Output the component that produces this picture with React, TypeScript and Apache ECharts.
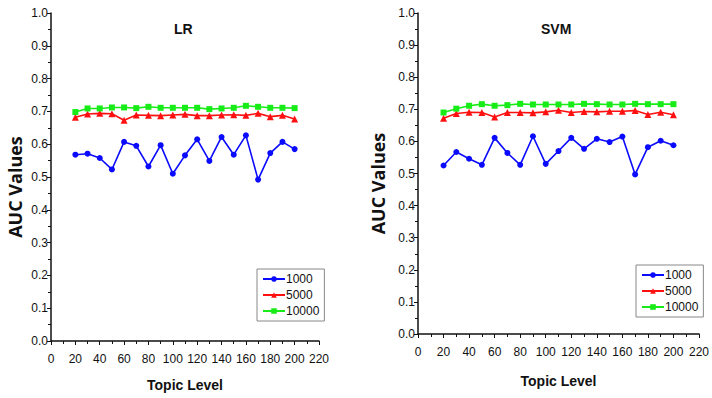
import React, { useEffect, useRef } from "react";
import * as echarts from "echarts";

const topicLevels = [20, 30, 40, 50, 60, 70, 80, 90, 100, 110, 120, 130, 140, 150, 160, 170, 180, 190, 200];
const seriesNames = ["1000", "5000", "10000"];
const chartTitles = ["LR", "SVM"];

const lr1000 = [0.568, 0.571, 0.558, 0.523, 0.607, 0.595, 0.532, 0.597, 0.51, 0.566, 0.615, 0.549, 0.622, 0.568, 0.627, 0.492, 0.573, 0.607, 0.585];
const lr5000 = [0.682, 0.692, 0.694, 0.693, 0.673, 0.689, 0.688, 0.687, 0.689, 0.691, 0.687, 0.687, 0.689, 0.69, 0.688, 0.694, 0.684, 0.688, 0.677];
const lr10000 = [0.698, 0.709, 0.709, 0.712, 0.712, 0.71, 0.714, 0.711, 0.711, 0.711, 0.711, 0.707, 0.709, 0.711, 0.717, 0.714, 0.711, 0.711, 0.71];

const svm1000 = [0.525, 0.567, 0.546, 0.527, 0.611, 0.564, 0.527, 0.616, 0.53, 0.57, 0.611, 0.577, 0.608, 0.598, 0.615, 0.497, 0.582, 0.602, 0.588];
const svm5000 = [0.672, 0.687, 0.691, 0.69, 0.676, 0.69, 0.69, 0.689, 0.692, 0.697, 0.69, 0.693, 0.692, 0.694, 0.694, 0.696, 0.684, 0.691, 0.683];
const svm10000 = [0.69, 0.702, 0.711, 0.716, 0.711, 0.713, 0.717, 0.715, 0.715, 0.715, 0.715, 0.717, 0.716, 0.715, 0.715, 0.717, 0.716, 0.716, 0.716];

const colors = ["#0a0aff", "#ff1010", "#18ec18"];
const symbols = ["circle", "triangle", "rect"];
const symbolSizes = [6, 7, 6];

const SANS = '"Liberation Sans", Arial, sans-serif';

function pairs(vals: number[]) {
  return topicLevels.map((x, i) => [x, vals[i]]);
}

export default function App() {
  const ref = useRef<HTMLDivElement>(null);
  useEffect(() => {
    if (!ref.current) return;
    const chart = echarts.init(ref.current, null, { renderer: "svg" });
    const grids = [
      { left: 51, top: 13, width: 268, height: 328 },
      { left: 418, top: 13, width: 284, height: 321 },
    ];
    const xNameGaps = [37, 40];
    const yNameGaps = [27, 31];
    const axisCommon = {
      axisLine: { show: true, lineStyle: { color: "#111", width: 1.5 } },
      axisTick: { show: true, length: 4, lineStyle: { color: "#111", width: 1 } },
      minorTick: { show: true, splitNumber: 2, length: 3, lineStyle: { color: "#111", width: 1 } },
      splitLine: { show: false },
    };
    const xAxes = grids.map((_, i) => ({
      type: "value",
      gridIndex: i,
      min: 0,
      max: 220,
      interval: 20,
      name: "Topic Level",
      nameLocation: "middle",
      nameGap: xNameGaps[i],
      nameTextStyle: { fontFamily: SANS, fontWeight: "bold", fontSize: 14, color: "#111" },
      axisLabel: { margin: 12, fontFamily: SANS, fontSize: 12, color: "#111" },
      ...axisCommon,
    }));
    const yAxes = grids.map((_, i) => ({
      type: "value",
      gridIndex: i,
      min: 0,
      max: 1,
      interval: 0.1,
      name: "AUC Values",
      nameLocation: "middle",
      nameGap: yNameGaps[i],
      nameTextStyle: {
        fontFamily: '"Open Sans", sans-serif',
        fontWeight: "bold",
        fontSize: 18,
        color: "#111",
        padding: [0, 20, 0, 0],
      },
      axisLabel: { margin: 3, fontFamily: SANS, fontSize: 12, color: "#111", formatter: (v: number) => v.toFixed(1) },
      ...axisCommon,
    }));
    const dataSets = [
      [lr1000, lr5000, lr10000],
      [svm1000, svm5000, svm10000],
    ];
    const series: any[] = [];
    dataSets.forEach((set, gi) => {
      set.forEach((vals, si) => {
        series.push({
          type: "line",
          name: seriesNames[si],
          xAxisIndex: gi,
          yAxisIndex: gi,
          data: pairs(vals),
          symbol: symbols[si],
          symbolSize: symbolSizes[si],
          color: colors[si],
          lineStyle: { color: colors[si], width: 1.6 },
          itemStyle: { color: colors[si] },
        });
      });
    });
    const legendCommon = {
      orient: "vertical",
      data: seriesNames,
      borderColor: "#888",
      borderWidth: 1,
      padding: [4, 5, 4, 5],
      itemWidth: 22,
      itemHeight: 7,
      itemGap: 4,
      textStyle: { fontFamily: SANS, fontSize: 12, color: "#111", padding: [0, 0, 0, -4] },
    };
    const titleStyle = { fontFamily: SANS, fontWeight: "bold", fontSize: 14, color: "#111" };
    chart.setOption({
      animation: false,
      backgroundColor: "#fff",
      title: [
        { text: chartTitles[0], left: 169, top: 17, textStyle: titleStyle },
        { text: chartTitles[1], left: 536, top: 17, textStyle: titleStyle },
      ],
      legend: [
        { ...legendCommon, left: 257, top: 269 },
        { ...legendCommon, left: 636, top: 265 },
      ],
      grid: grids,
      xAxis: xAxes,
      yAxis: yAxes,
      series,
    });
    return () => chart.dispose();
  }, []);
  return <div ref={ref} style={{ width: 712, height: 398, position: "absolute", left: 0, top: 0 }} />;
}
